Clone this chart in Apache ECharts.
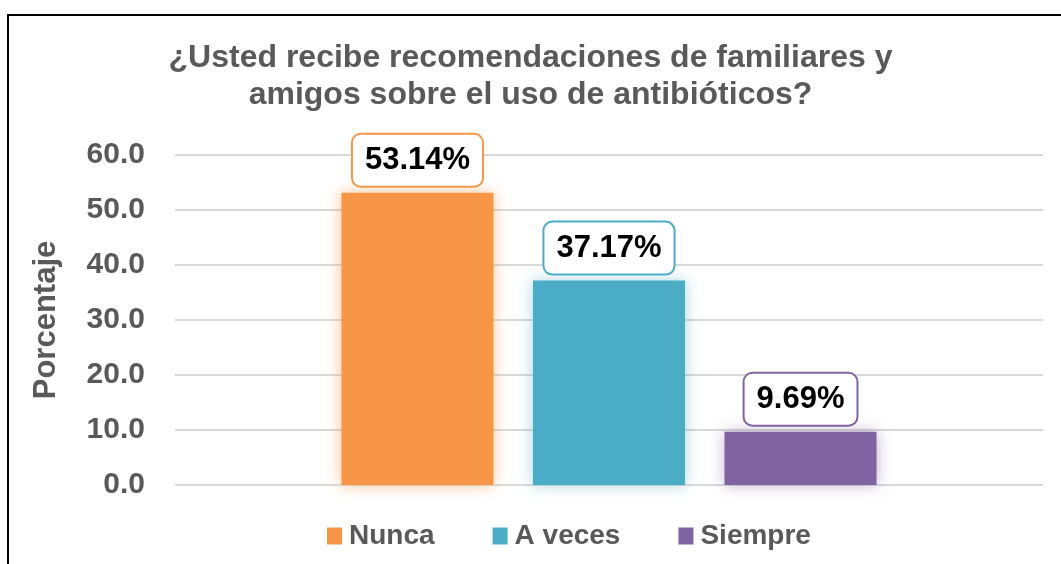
<!DOCTYPE html>
<html><head><meta charset="utf-8">
<script src="https://cdn.jsdelivr.net/npm/echarts@6/dist/echarts.min.js"></script>
<style>html,body{margin:0;padding:0;background:#fff}#c{width:1061px;height:564px}</style>
</head><body><div id="c"></div>
<script>
const titleText = '¿Usted recibe recomendaciones de familiares y\namigos sobre el uso de antibióticos?';
const seriesNames = ['Nunca', 'A veces', 'Siempre'];
const seriesValues = [53.14, 37.17, 9.69];
const seriesColors = ['#F79646', '#4BACC6', '#8064A2'];
const glowColors = ['rgba(247,150,70,0.6)', 'rgba(75,172,198,0.5)', 'rgba(128,100,162,0.5)'];
const yAxisName = 'Porcentaje';
const yMin = 0, yMax = 60, yInterval = 10;

const chart = echarts.init(document.getElementById('c'));
const font = 'Liberation Sans, Arial, sans-serif';
chart.setOption({
  animation: false,
  textStyle: { fontFamily: font },
  title: {
    text: titleText, left: 'center', top: 35,
    textStyle: { fontSize: 32, fontWeight: 'bold', color: '#595959', lineHeight: 37, fontFamily: font }
  },
  graphic: [{ type: 'rect', shape: { x: 8, y: 15, width: 1100, height: 600 }, style: { fill: 'none', stroke: '#000', lineWidth: 2 }, silent: true }],
  legend: {
    bottom: 9, left: 322, itemWidth: 15, itemHeight: 17, itemGap: 58, icon: 'rect',
    textStyle: { fontSize: 28, fontWeight: 'bold', color: '#595959', fontFamily: font, padding: [0, 0, 0, 2] }
  },
  grid: { left: 175, right: 18, top: 155, bottom: 79 },
  xAxis: { type: 'category', data: [''], axisLine: { show: false }, axisTick: { show: false }, axisLabel: { show: false } },
  yAxis: {
    type: 'value', min: yMin, max: yMax, interval: yInterval,
    name: yAxisName, nameLocation: 'middle', nameGap: 113, nameRotate: 90,
    nameTextStyle: { fontSize: 31, fontWeight: 'bold', color: '#595959', fontFamily: font },
    axisLabel: { fontSize: 30, fontWeight: 'bold', color: '#595959', margin: 30, formatter: v => v.toFixed(1), fontFamily: font },
    splitLine: { lineStyle: { color: '#D9D9D9', width: 2 } },
    axisLine: { show: false }, axisTick: { show: false }
  },
  series: seriesNames.map((n, i) => ({
    type: 'bar', name: n, data: [seriesValues[i]],
    barWidth: 152, barGap: '26%',
    itemStyle: { color: seriesColors[i], shadowColor: glowColors[i], shadowBlur: 14 },
    label: {
      show: true, position: 'top', distance: 7,
      formatter: p => p.value.toFixed(2) + '%',
      fontSize: 31, lineHeight: 33, fontWeight: 'bold', color: '#000', fontFamily: font,
      backgroundColor: '#fff', borderColor: seriesColors[i], borderWidth: 2, borderRadius: 8,
      padding: [9, 12, 9, 12]
    }
  }))
});
</script></body></html>
